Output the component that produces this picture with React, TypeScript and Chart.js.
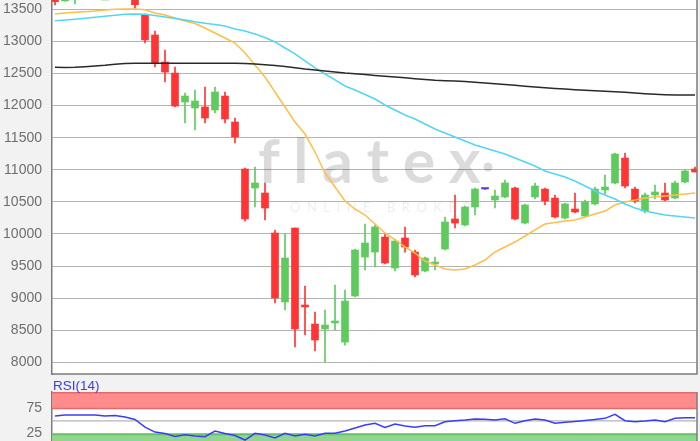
import React, { useEffect, useRef } from 'react';
import { Chart, registerables } from 'chart.js';

Chart.register(...registerables);

const FONT = '"Liberation Sans", Arial, sans-serif';

// ---- price candles (index 0..64) ----
const opens = [
  13700, 13630, 13660, 13700, 13760, 13720, 13740, 13800, 13720, 13411,
  13100, 12679, 12507, 12056, 11962, 11978, 11931, 12149, 11744, 11012,
  10716, 10638, 10015, 8940, 10093, 8893, 8597, 8519, 8613, 8316,
  9033, 9640, 9718, 9952, 9469, 9937, 9718, 9423, 9532, 9765,
  10233, 10140, 10420, 10700, 10529, 10576, 10716, 10170, 10576, 10700,
  10560, 10248, 10389, 10279, 10467, 10685, 10794, 11183, 10700, 10357,
  10607, 10638, 10560, 10809, 11012,
];
const closes = [
  13620, 13700, 13720, 13760, 13720, 13740, 13800, 13750, 13572, 13022,
  12663, 12523, 11993, 12149, 12071, 11806, 12212, 11791, 11511, 10233,
  10794, 10404, 9002, 9625, 8519, 8862, 8347, 8581, 8644, 8955,
  9750, 9859, 10108, 9547, 9890, 9797, 9360, 9625, 9563, 10186,
  10170, 10420, 10700, 10700, 10591, 10794, 10233, 10451, 10747, 10513,
  10264, 10467, 10342, 10498, 10700, 10732, 11246, 10747, 10513, 10607,
  10654, 10529, 10794, 10981, 10965,
];
const highs = [
  13750, 13720, 13760, 13800, 13850, 13780, 13830, 13870, 13760, 13427,
  13162, 12866, 12601, 12196, 12243, 12289, 12289, 12212, 11806, 11027,
  11043, 10794, 10062, 9999, 10093, 9189, 8784, 8815, 9204, 9126,
  9765, 10155, 10140, 9999, 9921, 10108, 9750, 9640, 9640, 10264,
  10607, 10436, 10716, 10705, 10685, 10840, 10732, 10467, 10794, 10716,
  10607, 10482, 10638, 10529, 10732, 10918, 11261, 11261, 10732, 10638,
  10763, 10794, 10825, 10996, 11043,
];
const lows = [
  13567, 13625, 13583, 13660, 13700, 13660, 13690, 13720, 13516, 12975,
  12601, 12367, 11978, 11729, 11620, 11729, 11884, 11729, 11417, 10201,
  10420, 10217, 8924, 8815, 8238, 8425, 8176, 8004, 8503, 8269,
  9018, 9438, 9485, 9532, 9423, 9718, 9329, 9407, 9438, 9750,
  10093, 10124, 10295, 10695, 10404, 10560, 10217, 10155, 10545, 10451,
  10248, 10233, 10326, 10264, 10451, 10622, 10778, 10716, 10482, 10326,
  10545, 10513, 10545, 10794, 10965,
];

// ---- moving averages ----
const maShort = [
  13427, 13442, 13453, 13463, 13474, 13489, 13500, 13505, 13505, 13492,
  13442, 13411, 13364, 13318, 13279, 13209, 13131, 13053, 12975, 12819,
  12632, 12445, 12212, 11978, 11744, 11557, 11277, 10950, 10732, 10513,
  10389, 10295, 10155, 10015, 9906, 9797, 9703, 9578, 9516, 9454,
  9438, 9454, 9516, 9594, 9719, 9797, 9874, 9968, 10062, 10155,
  10179, 10202, 10217, 10264, 10311, 10357, 10451, 10498, 10529, 10560,
  10576, 10591, 10607, 10622, 10638,
];
const maMid = [
  13322, 13333, 13346, 13360, 13375, 13391, 13407, 13422, 13427, 13422,
  13403, 13380, 13357, 13333, 13305, 13282, 13263, 13240, 13193, 13162,
  13115, 13061, 12991, 12897, 12804, 12695, 12586, 12492, 12399, 12305,
  12243, 12173, 12102, 12009, 11931, 11853, 11791, 11713, 11635, 11573,
  11510, 11448, 11386, 11339, 11292, 11246, 11183, 11121, 11059, 10981,
  10934, 10888, 10825, 10747, 10669, 10607, 10545, 10467, 10404, 10357,
  10326, 10295, 10279, 10264, 10248,
];
const maLong = [
  12596, 12592, 12596, 12606, 12617, 12628, 12643, 12656, 12659, 12659,
  12659, 12659, 12659, 12659, 12659, 12659, 12659, 12659, 12659, 12656,
  12648, 12637, 12624, 12609, 12590, 12570, 12554, 12539, 12523, 12508,
  12497, 12484, 12469, 12456, 12445, 12433, 12419, 12406, 12395, 12388,
  12383, 12375, 12363, 12352, 12341, 12328, 12316, 12302, 12289, 12279,
  12268, 12258, 12247, 12238, 12230, 12222, 12215, 12207, 12196, 12185,
  12177, 12170, 12165, 12165, 12165,
];

// ---- RSI(14) ----
const rsi = [
  59.7, 61.7, 61.7, 61.7, 61.7, 59.7, 60.7, 57.7, 52.6, 37.2,
  27.0, 24.0, 17.9, 21.5, 18.9, 17.4, 29.1, 24.0, 19.9, 10.7,
  24.4, 20.9, 14.8, 24.4, 18.9, 22.3, 18.9, 24.4, 24.4, 29.1,
  35.2, 41.3, 44.8, 36.6, 43.4, 39.3, 36.6, 39.9, 39.9, 48.1,
  50.1, 51.5, 53.6, 53.0, 51.5, 54.2, 44.8, 50.1, 53.6, 51.5,
  44.8, 46.8, 48.5, 50.5, 52.6, 55.0, 63.2, 50.1, 48.1, 49.5,
  51.5, 48.1, 55.0, 56.2, 56.2,
];

const priceTicks = [8000, 8500, 9000, 9500, 10000, 10500, 11000, 11500, 12000, 12500, 13000, 13500];
const rsiTicks = [25, 75];
const rsiTitle = 'RSI(14)';
const logoText = 'flatex';
const logoSub = 'ONLINE BROKER';

const UP = '#5fcb5f';
const DOWN = '#ff3434';
const FLAT = '#5b3fd6';
const BG = '#f2f2f2';
const AXIS = '#7c7c7c';
const GRID = '#b4b4b4';
const LABEL = '#6e6e6e';

function candleColor(i: number) {
  if (closes[i] > opens[i]) return UP;
  if (closes[i] < opens[i]) return DOWN;
  return FLAT;
}

function spacedText(ctx: CanvasRenderingContext2D, text: string, x: number, y: number, spacing: number) {
  let cx = x;
  for (const ch of text) {
    ctx.fillText(ch, cx, y);
    cx += ctx.measureText(ch).width + spacing;
  }
}

const framePlugin = {
  id: 'frame',
  beforeDraw(chart: any) {
    const { ctx, chartArea: a, width, height } = chart;
    ctx.save();
    ctx.fillStyle = BG;
    ctx.fillRect(0, 0, width, height);
    ctx.fillStyle = '#ffffff';
    ctx.fillRect(a.left, a.top, a.right - a.left, a.bottom - a.top);
    ctx.restore();
  },
};

export default function App() {
  const priceRef = useRef<HTMLCanvasElement>(null);
  const rsiRef = useRef<HTMLCanvasElement>(null);

  useEffect(() => {
    const idx = opens.map((_, i) => i);
    const colors = idx.map(candleColor);

    const priceBorder = {
      id: 'priceBorder',
      beforeDatasetsDraw(chart: any) {
        const { ctx } = chart;
        ctx.save();
        ctx.fillStyle = 'rgba(0,0,0,0.14)';
        ctx.font = 'bold 61px Lato, "Open Sans", sans-serif';
        ctx.textBaseline = 'alphabetic';
        spacedText(ctx, logoText, 258, 183, 13.5);
        ctx.beginPath();
        ctx.arc(488, 167, 4.5, 0, Math.PI * 2);
        ctx.fill();
        ctx.fillStyle = 'rgba(0,0,0,0.07)';
        ctx.font = '13px Lato, "Open Sans", sans-serif';
        spacedText(ctx, logoSub, 290, 212, 6.5);
        ctx.restore();
      },
      afterDraw(chart: any) {
        const { ctx, chartArea: a } = chart;
        ctx.save();
        ctx.strokeStyle = AXIS;
        ctx.lineWidth = 1.5;
        ctx.beginPath();
        ctx.moveTo(a.left, a.bottom);
        ctx.lineTo(a.right, a.bottom);
        ctx.lineTo(a.right, a.top);
        ctx.stroke();
        ctx.restore();
      },
    };

    const priceChart = new Chart(priceRef.current!, {
      type: 'bar',
      data: {
        datasets: [
          { type: 'line', label: 'MA long', data: idx.map((i) => ({ x: i, y: maLong[i] })), borderColor: '#2a2a2a', borderWidth: 1.5, pointRadius: 0, order: 0, clip: 0 } as any,
          { type: 'line', label: 'MA mid', data: idx.map((i) => ({ x: i, y: maMid[i] })), borderColor: '#52d6f4', borderWidth: 1.5, pointRadius: 0, order: 0, clip: 0 } as any,
          { type: 'line', label: 'MA short', data: idx.map((i) => ({ x: i, y: maShort[i] })), borderColor: '#ffbe48', borderWidth: 1.5, pointRadius: 0, order: 0, clip: 0 } as any,
          { type: 'bar', label: 'body', data: idx.map((i) => ({ x: i, y: [opens[i], closes[i]] })), backgroundColor: colors, barThickness: 7, grouped: false, minBarLength: 1.5, order: 1, clip: 0 } as any,
          { type: 'bar', label: 'wick', data: idx.map((i) => ({ x: i, y: [lows[i], highs[i]] })), backgroundColor: colors, barThickness: 1, grouped: false, order: 2, clip: 0 } as any,
        ],
      },
      options: {
        animation: false,
        responsive: false,
        devicePixelRatio: 1,
        layout: { padding: { left: 0, right: 3, top: 0, bottom: 2 } },
        plugins: { legend: { display: false }, tooltip: { enabled: false } },
        scales: {
          x: { type: 'linear', min: -0.3, max: 64.2, offset: false, display: false },
          y: {
            min: 7818,
            max: 13645,
            afterBuildTicks: (s: any) => { s.ticks = priceTicks.map((v) => ({ value: v })); },
            afterFit: (s: any) => { s.width = 52; s.paddingTop = 0; s.paddingBottom = 0; },
            ticks: { color: LABEL, font: { family: FONT, size: 14 }, padding: 10, callback: (v: any) => String(v) },
            grid: { color: GRID, lineWidth: 1, drawTicks: false },
            border: { display: true, color: AXIS, width: 1.5 },
          },
        },
      } as any,
      plugins: [framePlugin, priceBorder],
    });

    const rsiDeco = {
      id: 'rsiDeco',
      beforeDatasetsDraw(chart: any) {
        const { ctx, chartArea: a } = chart;
        const y = chart.scales.y;
        const w = a.right - a.left;
        const y75 = y.getPixelForValue(75);
        const y25 = y.getPixelForValue(25);
        const y50 = y.getPixelForValue(50);
        ctx.save();
        ctx.fillStyle = '#ff8c8c';
        ctx.fillRect(a.left, a.top, w, y75 - a.top);
        ctx.fillStyle = '#8fd68f';
        ctx.fillRect(a.left, y25, w, a.bottom - y25);
        ctx.lineWidth = 1.5;
        ctx.strokeStyle = '#e46a6a';
        ctx.beginPath();
        ctx.moveTo(a.left, y75); ctx.lineTo(a.right, y75);
        ctx.moveTo(a.left, a.top + 0.75); ctx.lineTo(a.right, a.top + 0.75);
        ctx.stroke();
        ctx.strokeStyle = '#68c068';
        ctx.beginPath();
        ctx.moveTo(a.left, y25 + 1.5); ctx.lineTo(a.right, y25 + 1.5);
        ctx.stroke();
        ctx.strokeStyle = GRID;
        ctx.lineWidth = 1.2;
        ctx.beginPath();
        ctx.moveTo(a.left, y50); ctx.lineTo(a.right, y50);
        ctx.stroke();
        ctx.restore();
      },
      afterDraw(chart: any) {
        const { ctx, chartArea: a } = chart;
        ctx.save();
        ctx.strokeStyle = AXIS;
        ctx.lineWidth = 1.5;
        ctx.beginPath();
        ctx.moveTo(a.right, a.top);
        ctx.lineTo(a.right, a.bottom);
        ctx.stroke();
        ctx.fillStyle = '#3a3af2';
        ctx.font = `13.5px ${FONT}`;
        ctx.textBaseline = 'middle';
        ctx.textAlign = 'left';
        ctx.fillText(rsiTitle, 53, 10);
        ctx.restore();
      },
    };

    const rsiChart = new Chart(rsiRef.current!, {
      type: 'line',
      data: {
        datasets: [
          { label: 'RSI', data: idx.map((i) => ({ x: i, y: rsi[i] })), borderColor: '#3b3bff', borderWidth: 1.5, pointRadius: 0, clip: 0 } as any,
        ],
      },
      options: {
        animation: false,
        responsive: false,
        devicePixelRatio: 1,
        layout: { padding: { left: 0, right: 3, top: 16, bottom: 10 } },
        plugins: { legend: { display: false }, tooltip: { enabled: false } },
        scales: {
          x: { type: 'linear', min: -0.3, max: 64.2, offset: false, display: false },
          y: {
            min: -30,
            max: 108.7,
            afterBuildTicks: (s: any) => { s.ticks = rsiTicks.map((v) => ({ value: v })); },
            afterFit: (s: any) => { s.width = 52; s.paddingTop = 0; s.paddingBottom = 0; },
            ticks: { color: LABEL, font: { family: FONT, size: 14 }, padding: 10, callback: (v: any) => String(v) },
            grid: { display: false, drawTicks: false },
            border: { display: true, color: AXIS, width: 1.5 },
          },
        },
      } as any,
      plugins: [framePlugin, rsiDeco],
    });

    return () => {
      priceChart.destroy();
      rsiChart.destroy();
    };
  }, []);

  return (
    <div style={{ position: 'fixed', left: 0, top: 0, width: 700, height: 441, overflow: 'hidden', background: BG }}>
      <canvas ref={priceRef} width={700} height={376} style={{ position: 'absolute', left: 0, top: 0, width: 700, height: 376 }} />
      <canvas ref={rsiRef} width={700} height={94} style={{ position: 'absolute', left: 0, top: 376, width: 700, height: 94 }} />
    </div>
  );
}
